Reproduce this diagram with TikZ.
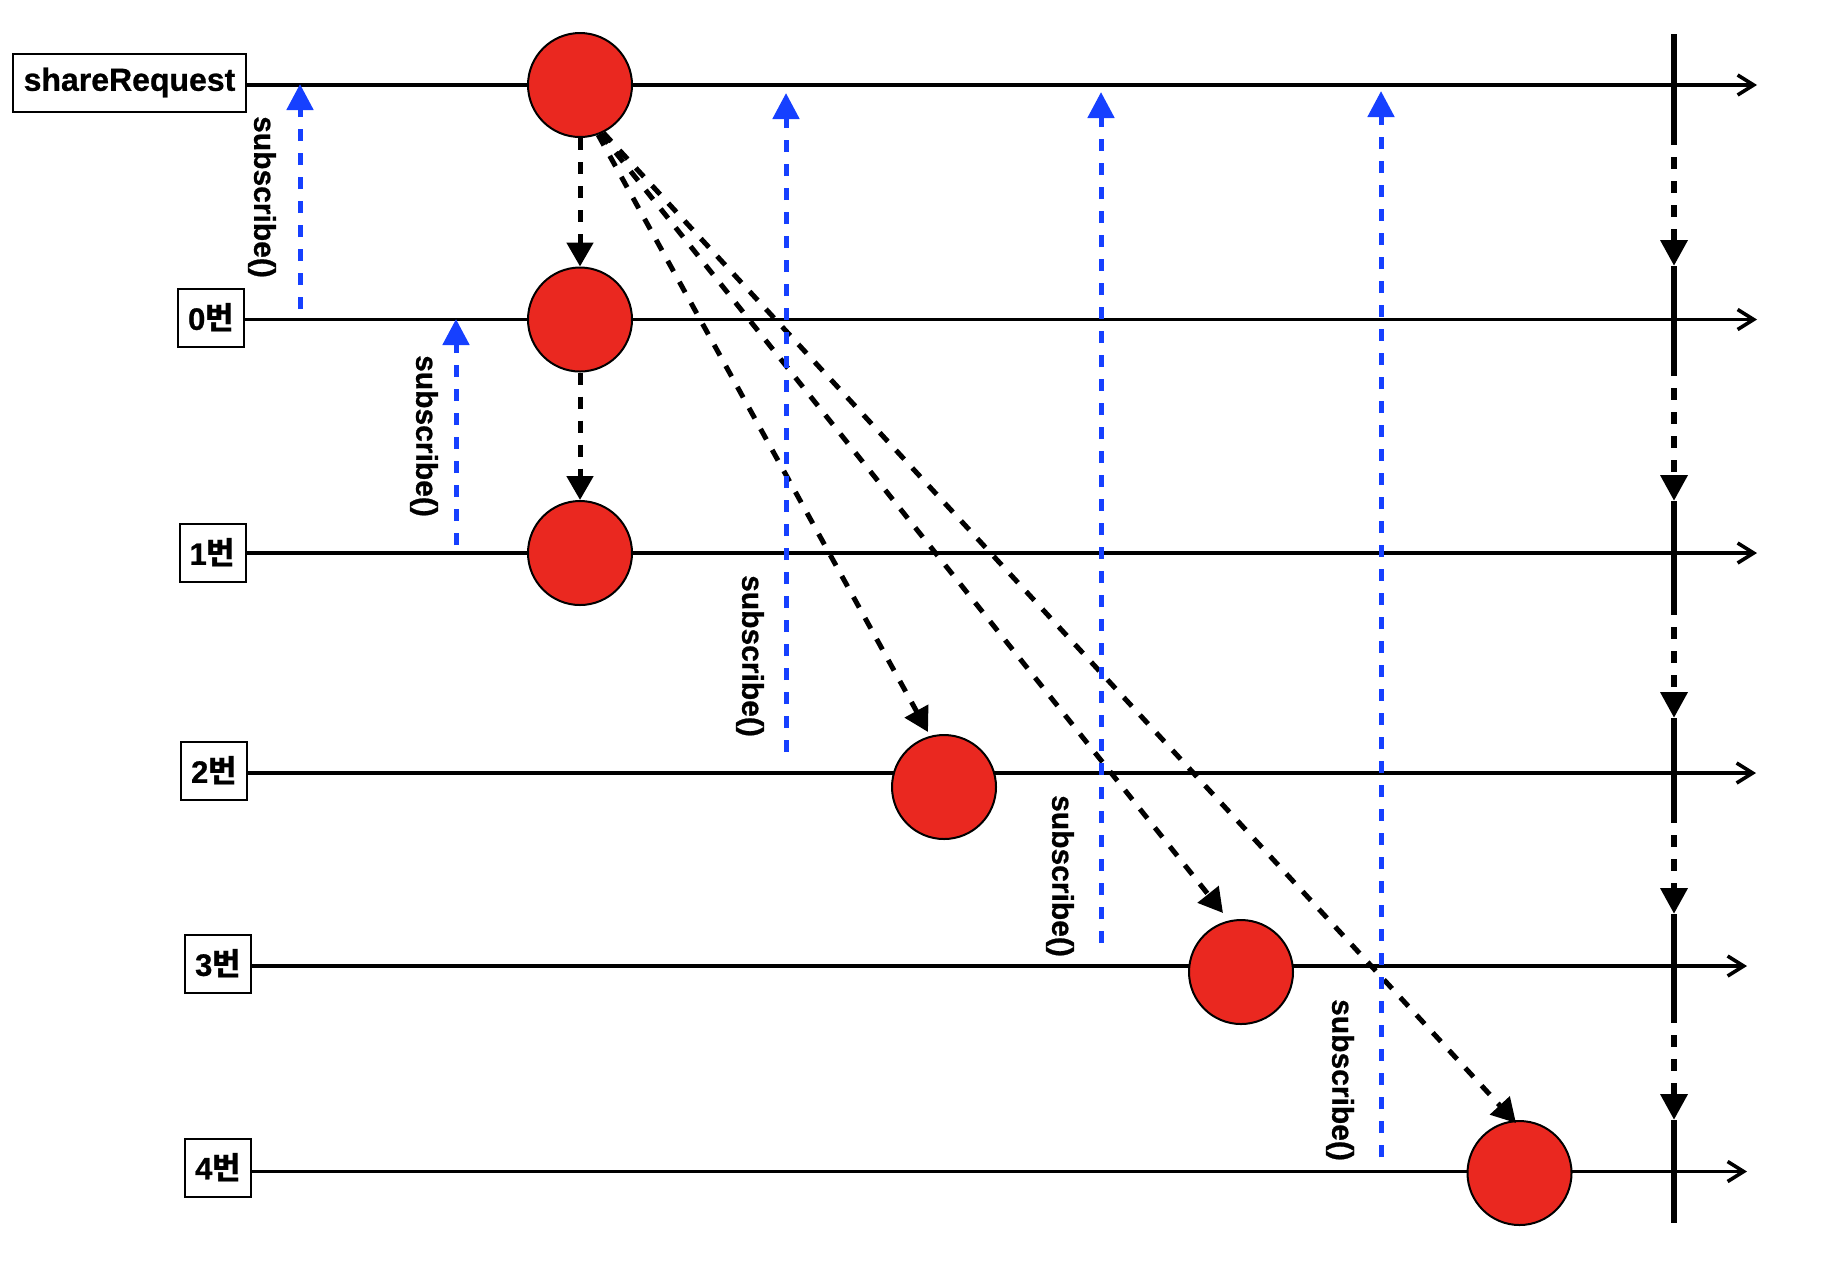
\documentclass[tikz,border=0pt]{standalone}
\usepackage{fontspec}
\setmainfont{Liberation Sans}[BoldFeatures={FakeBold=0.8}]
\newfontfamily\kr{Noto Sans CJK KR}
\usetikzlibrary{arrows.meta}
\definecolor{cred}{RGB}{234,40,32}
\definecolor{cblue}{RGB}{22,64,255}
\begin{document}
\begin{tikzpicture}[x=0.5pt,y=-0.5pt,
  lbl/.style={draw, line width=1pt, inner sep=0pt, minimum height=29pt, minimum width=33pt, font=\fontsize{15.5}{18}\selectfont\bfseries},
  timeline/.style={line width=1.8pt, -{Straight Barb[length=8pt,width=10pt]}},
  ev/.style={circle, draw, line width=1pt, fill=cred, minimum size=52pt, inner sep=0pt},
  flow/.style={line width=2.5pt, dash pattern=on 6pt off 6pt, -{Triangle[length=12pt,width=13pt]}},
  sub/.style={cblue, line width=2.5pt, dash pattern=on 6pt off 6pt, -{Triangle[length=13pt,width=13pt]}},
  subtxt/.style={rotate=-90, font=\fontsize{15}{18}\selectfont\bfseries, inner sep=0pt},
  stopseg/.style={line width=3.3pt},
  stopflow/.style={line width=3.3pt, dash pattern=on 6pt off 6pt, dash phase=6pt, -{Triangle[length=13pt,width=13pt]}}
]
\useasboundingbox (0,0) rectangle (1834,1266);

% labels
\node[lbl, minimum width=116.5pt, font=\fontsize{16}{18}\selectfont\bfseries] (sr) at (129.5,82.5) {shareRequest};
\node[lbl] (n0) at (211,318) {0{\kr 번}};
\node[lbl] (n1) at (212.5,553) {1{\kr 번}};
\node[lbl] (n2) at (214,771) {2{\kr 번}};
\node[lbl] (n3) at (218,964) {3{\kr 번}};
\node[lbl] (n4) at (218,1167.5) {4{\kr 번}};

% timeline ends
\coordinate (e0) at (1757,85);
\coordinate (e1) at (1757,319.5);
\coordinate (e2) at (1757,553);
\coordinate (e3) at (1756,773);
\coordinate (e4) at (1747,966);
\coordinate (e5) at (1747,1171.5);

\draw[timeline] (sr.east |- e0) -- (e0);
\draw[timeline] (n0.east |- e1) -- (e1);
\draw[timeline] (n1.east |- e2) -- (e2);
\draw[timeline] (n2.east |- e3) -- (e3);
\draw[timeline] (n3.east |- e4) -- (e4);
\draw[timeline] (n4.east |- e5) -- (e5);

% stop line
\coordinate (v0a) at (1674,34);   \coordinate (v0b) at (1674,145);
\coordinate (v1a) at (1674,266);  \coordinate (v1b) at (1674,376);
\coordinate (v2a) at (1674,501);  \coordinate (v2b) at (1674,615);
\coordinate (v3a) at (1674,718);  \coordinate (v3b) at (1674,823);
\coordinate (v4a) at (1674,914);  \coordinate (v4b) at (1674,1023);
\coordinate (v5a) at (1674,1120); \coordinate (v5b) at (1674,1223);
\draw[stopseg] (v0a) -- (v0b);
\draw[stopseg] (v1a) -- (v1b);
\draw[stopseg] (v2a) -- (v2b);
\draw[stopseg] (v3a) -- (v3b);
\draw[stopseg] (v4a) -- (v4b);
\draw[stopseg] (v5a) -- (v5b);
\draw[stopflow] (v0b) -- (v1a);
\draw[stopflow] (v1b) -- (v2a);
\draw[stopflow] (v2b) -- (v3a);
\draw[stopflow] (v3b) -- (v4a);
\draw[stopflow] (v4b) -- (v5a);

% events
\node[ev] (c0) at (580,85) {};
\node[ev] (c1) at (580,319.5) {};
\node[ev] (c2) at (580,553) {};
\node[ev] (c3) at (944,787) {};
\node[ev] (c4) at (1241,972) {};
\node[ev] (c5) at (1519.5,1173) {};

% propagation arrows
\coordinate (t3) at (928,732);
\coordinate (t4) at (1223,913);
\coordinate (t5) at (1516,1123);
\draw[flow] (c0.south) -- (c1.north);
\draw[flow] (c1.south) -- (c2.north);
\draw[flow] (c0.-70) -- (t3);
\draw[flow] (c0.-67) -- (t4);
\draw[flow] (c0.-64) -- (t5);

% subscribe arrows
\coordinate (b1s) at (300,309);  \coordinate (b1t) at (300,84);
\coordinate (b2s) at (456,545);  \coordinate (b2t) at (456,319);
\coordinate (b3s) at (786,752);  \coordinate (b3t) at (786,93);
\coordinate (b4s) at (1101,943); \coordinate (b4t) at (1101,92);
\coordinate (b5s) at (1381,1157);\coordinate (b5t) at (1381,91);
\draw[sub] (b1s) -- (b1t);
\draw[sub] (b2s) -- (b2t);
\draw[sub] (b3s) -- (b3t);
\draw[sub] (b4s) -- (b4t);
\draw[sub] (b5s) -- (b5t);

\node[subtxt] (s1) at (262,197) {subscribe()};
\node[subtxt] (s2) at (424,436) {subscribe()};
\node[subtxt] (s3) at (750,656) {subscribe()};
\node[subtxt] (s4) at (1060,876) {subscribe()};
\node[subtxt] (s5) at (1340,1080) {subscribe()};
\end{tikzpicture}
\end{document}
